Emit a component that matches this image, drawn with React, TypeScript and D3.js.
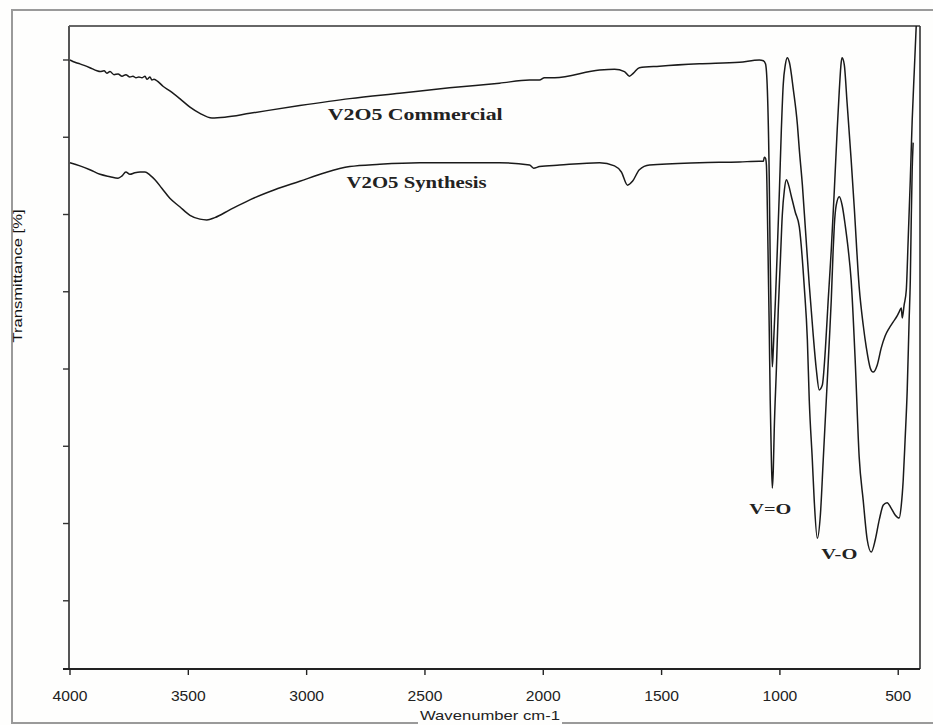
import React from "react";
import * as d3 from "d3";

// Wavenumber (cm-1) and transmittance values
const commercialWavenumber = [4000,3979,3958,3916,3886,3873,3856,3844,3831,3814,3797,3780,3764,3747,3734,3721,3709,3696,3683,3675,3662,3654,3645,3628,3607,3578,3536,3493,3451,3400,3346,3240,3029,2818,2607,2396,2185,2058,2016,1995,1952,1762,1699,1657,1636,1619,1594,1509,1340,1171,1087,1070,1061,1053,1045,1041,1036,1032,1028,1019,1011,1002,994,986,977,969,960,943,926,918,905,892,876,859,846,834,821,808,796,783,770,758,749,741,737,728,716,699,686,665,648,635,618,606,589,572,555,538,521,504,496,487,483,475,466,458,449,441,432,424];
const commercialValue = [80.0,79.7,79.5,79.0,78.6,78.5,78.6,78.3,78.5,78.1,78.2,77.9,78.1,77.8,77.9,77.7,77.8,77.7,77.9,77.5,77.8,77.4,77.5,77.2,76.6,76.0,75.0,73.9,73.1,72.5,72.6,73.1,74.1,75.0,75.7,76.4,77.0,77.4,77.4,77.7,77.7,78.7,78.8,78.5,77.9,78.3,79.0,79.2,79.5,79.7,80.0,79.9,79.5,76.1,64.5,54.1,45.0,40.3,42.5,48.9,55.4,63.2,70.9,76.8,79.4,80.3,79.7,76.1,71.6,68.4,63.8,58.0,50.9,44.3,39.9,37.3,37.9,42.5,48.9,55.4,63.2,70.9,76.1,79.7,80.3,79.4,74.4,67.1,61.0,50.6,45.7,42.8,40.1,39.6,40.5,42.7,44.3,45.3,46.1,46.9,47.4,47.9,46.6,48.3,50.2,56.7,64.5,72.2,78.7,84.4];

const synthesisWavenumber = [4000,3958,3916,3873,3831,3797,3780,3764,3747,3726,3704,3683,3662,3641,3612,3578,3536,3493,3451,3422,3388,3325,3240,3135,3029,2923,2818,2691,2522,2185,2058,2041,2016,1931,1762,1699,1670,1644,1623,1594,1551,1340,1171,1087,1070,1066,1061,1057,1053,1049,1045,1041,1036,1032,1028,1024,1015,1007,998,990,981,973,964,952,935,918,897,884,876,863,855,842,829,817,804,791,783,775,770,762,749,737,724,711,699,682,665,648,631,614,597,580,563,547,530,513,496,487,479,471,462,454,449,445,441,437];
const synthesisValue = [66.7,66.3,65.8,65.2,64.9,64.7,65.0,65.5,65.2,65.4,65.5,65.5,65.1,64.5,63.4,62.1,61.0,59.9,59.4,59.3,59.6,60.6,61.9,63.2,64.3,65.4,66.2,66.5,66.7,66.7,66.4,66.0,66.2,66.4,66.7,66.3,65.5,63.8,64.3,65.8,66.4,66.7,66.8,66.9,66.9,67.4,67.3,66.4,60.6,52.8,45.0,36.0,28.2,24.6,26.9,32.1,39.9,47.6,54.1,59.9,63.2,64.5,63.9,62.4,60.3,58.4,50.6,43.8,36.0,28.2,23.0,18.1,21.1,28.2,36.0,43.8,48.9,55.4,58.6,61.2,62.3,61.2,58.6,55.4,51.5,41.2,28.6,23.0,17.9,16.3,17.9,20.5,22.4,22.7,22.0,21.1,20.7,22.4,25.6,30.8,37.3,46.3,51.5,59.3,65.8,69.3];

const xTicks = [4000, 3500, 3000, 2500, 2000, 1500, 1000, 500];
const yTicks = [10, 20, 30, 40, 50, 60, 70, 80];

const annotationText = ["V2O5 Commercial", "V2O5 Synthesis", "V=O", "V-O"];
const annotationWavenumber = [2911, 2831, 1129, 825];
const annotationValue = [72.2, 63.4, 21.2, 15.4];
const annotationWidth = [175, 140, 42, 36];
const annotationSize = [16, 16, 15, 15];

const X_DOMAIN: [number, number] = [4000, 408];
const Y_DOMAIN: [number, number] = [1.17, 84.4];

export default function App() {
  const W = 933;
  const H = 725;
  const x = d3.scaleLinear().domain(X_DOMAIN).range([70, 920]);
  const y = d3.scaleLinear().domain(Y_DOMAIN).range([669, 26]);

  const line = d3
    .line<[number, number]>()
    .x((d) => x(d[0]))
    .y((d) => y(d[1]))
    .curve(d3.curveMonotoneX);

  const commercial = commercialWavenumber.map((w, i) => [w, commercialValue[i]] as [number, number]);
  const synthesis = synthesisWavenumber.map((w, i) => [w, synthesisValue[i]] as [number, number]);

  const left = x(X_DOMAIN[0]) - 1;
  const right = x(X_DOMAIN[1]);
  const top = y(Y_DOMAIN[1]);
  const bottom = y(Y_DOMAIN[0]);
  const sans = "'Liberation Sans', Arial, sans-serif";
  const serif = "'Liberation Serif', 'DejaVu Serif', serif";

  return (
    <svg
      width={W}
      height={H}
      style={{ position: "fixed", left: 0, top: 0, background: "#fefefd" }}
    >
      <rect x={0} y={0} width={W} height={H} fill="#fefefd" />
      {/* outer frame */}
      <path d={`M${W + 2},10 H12 V723 H${W + 2}`} fill="none" stroke="#9a9a9a" strokeWidth={2} />

      {/* plot frame */}
      <line x1={left} x2={right} y1={top} y2={top} stroke="#333" strokeWidth={1.6} />
      <line x1={right} x2={right} y1={top} y2={bottom} stroke="#333" strokeWidth={1.6} />
      <line x1={left} x2={left} y1={top} y2={bottom} stroke="#555" strokeWidth={2} />
      <line x1={63} x2={right} y1={bottom} y2={bottom} stroke="#222" strokeWidth={1.8} />

      {/* y ticks */}
      {yTicks.map((t) => (
        <line key={t} x1={left - 6} x2={left} y1={y(t)} y2={y(t)} stroke="#333" strokeWidth={1.4} />
      ))}

      {/* x ticks */}
      {xTicks.map((t) => (
        <g key={t}>
          <line x1={x(t)} x2={x(t)} y1={bottom} y2={bottom + 6} stroke="#222" strokeWidth={1.4} />
          <text
            x={x(t)}
            y={701}
            textAnchor="middle"
            fontFamily={sans}
            fontSize={15.5}
            fill="#222"
            textLength={String(t).length * 8.7}
            lengthAdjust="spacingAndGlyphs"
          >
            {t}
          </text>
        </g>
      ))}

      {/* curves */}
      <path d={line(commercial) || ""} fill="none" stroke="#1a1a1a" strokeWidth={1.5} strokeLinejoin="round" />
      <path d={line(synthesis) || ""} fill="none" stroke="#1a1a1a" strokeWidth={1.5} strokeLinejoin="round" />

      {/* annotations */}
      {annotationText.map((t, i) => (
        <text
          key={t}
          x={x(annotationWavenumber[i])}
          y={y(annotationValue[i])}
          fontFamily={serif}
          fontWeight="bold"
          fontSize={annotationSize[i]}
          fill="#222"
          textLength={annotationWidth[i]}
          lengthAdjust="spacingAndGlyphs"
        >
          {t}
        </text>
      ))}

      {/* axis titles */}
      <text
        transform="translate(22,276) rotate(-90)"
        textAnchor="middle"
        fontFamily={sans}
        fontSize={13.5}
        fill="#111"
        textLength={133}
        lengthAdjust="spacingAndGlyphs"
      >
        Transmittance [%]
      </text>
      <rect x={418} y={709} width={144} height={16} fill="#fefefd" />
      <text
        x={490}
        y={720}
        textAnchor="middle"
        fontFamily={sans}
        fontSize={13}
        fill="#222"
        textLength={140}
        lengthAdjust="spacingAndGlyphs"
      >
        Wavenumber cm-1
      </text>
    </svg>
  );
}
